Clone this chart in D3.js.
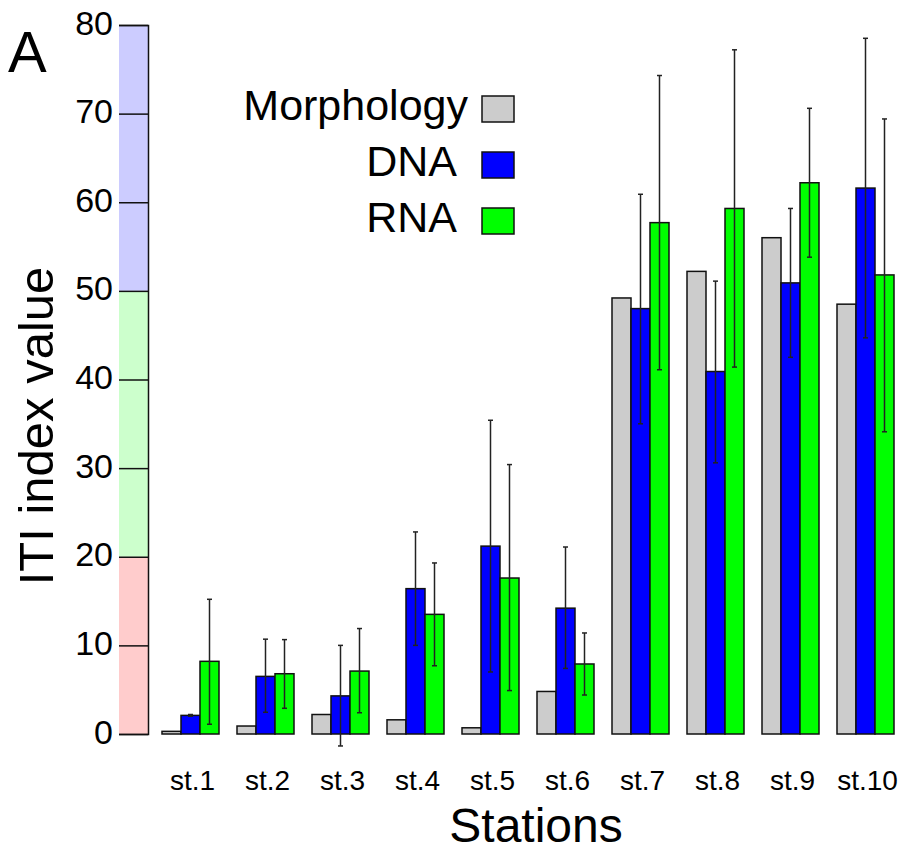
<!DOCTYPE html>
<html>
<head>
<meta charset="utf-8">
<script src="https://cdn.jsdelivr.net/npm/d3@7"></script>
<style>
  body { margin: 0; background: #fff; }
  svg { display: block; font-family: "Liberation Sans", Arial, sans-serif; }
</style>
</head>
<body>
<svg id="chart" width="906" height="852"></svg>
<script>
var stations = ['st.1', 'st.2', 'st.3', 'st.4', 'st.5', 'st.6', 'st.7', 'st.8', 'st.9', 'st.10'];
var seriesNames = ['Morphology', 'DNA', 'RNA'];

var morphology = [0.3, 0.9, 2.2, 1.6, 0.7, 4.8, 49.2, 52.2, 56.0, 48.5];
var dna = [2.1, 6.5, 4.3, 16.4, 21.2, 14.2, 48.0, 40.9, 50.9, 61.6];
var dnaLow = [2.0, 2.45, -1.35, 10.0, 7.0, 7.4, 35.0, 30.6, 42.5, 44.7];
var dnaHigh = [2.2, 10.7, 10.0, 22.8, 35.4, 21.1, 60.9, 51.1, 59.3, 78.5];
var rna = [8.2, 6.8, 7.1, 13.5, 17.6, 7.9, 57.7, 59.3, 62.2, 51.8];
var rnaLow = [1.1, 2.9, 2.4, 7.7, 4.9, 4.4, 41.1, 41.4, 53.8, 34.1];
var rnaHigh = [15.2, 10.65, 11.9, 19.3, 30.4, 11.4, 74.3, 77.2, 70.6, 69.4];

var yTicks = [0, 10, 20, 30, 40, 50, 60, 70, 80];
var zoneFrom = [0, 20, 50];
var zoneTo = [20, 50, 80];
var zoneColors = ['#ffcccc', '#ccffcc', '#ccccff'];
var seriesColors = ['#cccccc', '#0000ff', '#00ff00'];

var svg = d3.select('#chart');

var y = d3.scaleLinear().domain([0, 80]).range([734, 25]);
var x = d3.scaleBand().domain(stations).range([153, 903]).paddingInner(0.24).paddingOuter(0.12);
var xs = d3.scaleBand().domain(seriesNames).range([0, x.bandwidth()]);

// quality zones behind the axis
svg.append('g').selectAll('rect')
  .data(zoneFrom)
  .join('rect')
  .attr('x', 119)
  .attr('width', 29)
  .attr('y', (d, i) => y(zoneTo[i]))
  .attr('height', (d, i) => y(zoneFrom[i]) - y(zoneTo[i]))
  .attr('fill', (d, i) => zoneColors[i]);

var yAxis = svg.append('g')
  .attr('transform', 'translate(148,0)')
  .call(d3.axisLeft(y).tickValues(yTicks).tickSizeInner(29).tickSizeOuter(29).tickPadding(6));
yAxis.selectAll('path, line').attr('stroke', '#111').attr('stroke-width', 1.5);
yAxis.selectAll('text')
  .attr('font-size', 34)
  .attr('font-family', '"Liberation Sans", Arial, sans-serif')
  .attr('fill', '#000')
  .attr('dy', null)
  .attr('y', 9);

// bars
var rows = stations.map((s, i) => ({
  station: s,
  values: [
    { key: 'Morphology', v: morphology[i] },
    { key: 'DNA', v: dna[i], lo: dnaLow[i], hi: dnaHigh[i] },
    { key: 'RNA', v: rna[i], lo: rnaLow[i], hi: rnaHigh[i] }
  ]
}));

var groups = svg.append('g').selectAll('g')
  .data(rows)
  .join('g')
  .attr('transform', d => 'translate(' + x(d.station) + ',0)');

groups.selectAll('rect')
  .data(d => d.values)
  .join('rect')
  .attr('x', d => xs(d.key))
  .attr('width', xs.bandwidth())
  .attr('y', d => y(d.v))
  .attr('height', d => y(0) - y(d.v))
  .attr('fill', (d, i) => seriesColors[i])
  .attr('stroke', '#111')
  .attr('stroke-width', 1.5);

// error bars
var errs = groups.selectAll('g.err')
  .data(d => d.values.filter(v => v.lo !== undefined))
  .join('g')
  .attr('class', 'err')
  .attr('stroke', '#222')
  .attr('stroke-width', 1.5);
var cx = d => xs(d.key) + xs.bandwidth() / 2;
errs.append('line')
  .attr('x1', cx).attr('x2', cx)
  .attr('y1', d => y(d.hi)).attr('y2', d => y(d.lo));
errs.append('line')
  .attr('x1', d => cx(d) - 2.5).attr('x2', d => cx(d) + 2.5)
  .attr('y1', d => y(d.hi)).attr('y2', d => y(d.hi));
errs.append('line')
  .attr('x1', d => cx(d) - 2.5).attr('x2', d => cx(d) + 2.5)
  .attr('y1', d => y(d.lo)).attr('y2', d => y(d.lo));

// station labels
svg.append('g').selectAll('text')
  .data(stations)
  .join('text')
  .attr('x', d => x(d) + x.bandwidth() / 2 + 2)
  .attr('y', 790)
  .attr('text-anchor', 'middle')
  .attr('font-size', 28)
  .text(d => d);

// axis titles
svg.append('text')
  .attr('x', 536)
  .attr('y', 842)
  .attr('text-anchor', 'middle')
  .attr('font-size', 48)
  .text('Stations');

svg.append('text')
  .attr('transform', 'translate(53,426) rotate(-90)')
  .attr('text-anchor', 'middle')
  .attr('font-size', 49)
  .text('ITI index value');

svg.append('text')
  .attr('x', 8)
  .attr('y', 72)
  .attr('font-size', 58)
  .text('A');

// legend
var legend = svg.append('g').selectAll('g')
  .data(seriesNames)
  .join('g')
  .attr('transform', (d, i) => 'translate(0,' + (96 + i * 56) + ')');
legend.append('rect')
  .attr('x', 482)
  .attr('width', 32)
  .attr('height', 26)
  .attr('fill', (d, i) => seriesColors[i])
  .attr('stroke', '#111')
  .attr('stroke-width', 1.5);
legend.append('text')
  .attr('x', d => d === 'Morphology' ? 468 : 457)
  .attr('y', 24)
  .attr('text-anchor', 'end')
  .attr('font-size', 43)
  .text(d => d);
</script>
</body>
</html>
